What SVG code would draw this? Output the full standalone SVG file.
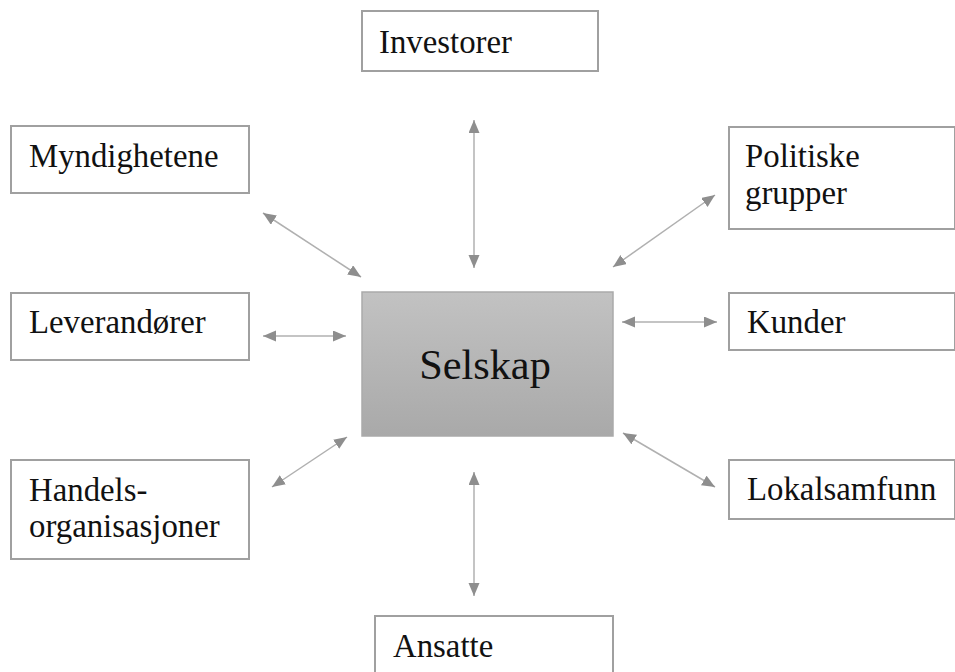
<svg xmlns="http://www.w3.org/2000/svg" width="955" height="672" viewBox="0 0 955 672">
<style>
.box{fill:#fff;stroke:#a0a0a0;stroke-width:2}
.t{font-family:"Liberation Serif","Times New Roman",serif;font-size:32.8px;fill:#111}
.c{stroke:#b0b0b0;stroke-width:1.5;fill:none;marker-start:url(#ah);marker-end:url(#ah)}
</style>
<defs>
<marker id="ah" markerUnits="userSpaceOnUse" markerWidth="14" markerHeight="12" refX="13" refY="5.5" orient="auto-start-reverse" viewBox="0 0 14 12">
<path d="M0,0 L13,5.5 L0,11 z" fill="#8e8e8e"/>
</marker>
<linearGradient id="g" x1="0" y1="0" x2="0" y2="1">
<stop offset="0" stop-color="#c2c2c2"/>
<stop offset="1" stop-color="#a9a9a9"/>
</linearGradient>
</defs>
<g id="connectors">
<line class="c" x1="474" y1="120" x2="474" y2="268"/>
<line class="c" x1="474" y1="472" x2="474" y2="596"/>
<line class="c" x1="263" y1="213" x2="361" y2="277"/>
<line class="c" x1="715" y1="195" x2="613" y2="267"/>
<line class="c" x1="263" y1="336" x2="346" y2="336"/>
<line class="c" x1="622" y1="322" x2="717" y2="322"/>
<line class="c" x1="347" y1="437" x2="272" y2="487"/>
<line class="c" x1="623" y1="433" x2="715" y2="487"/>
</g>
<g id="selskap">
<rect x="362" y="292" width="251" height="144" fill="url(#g)" stroke="#aaa" stroke-width="1.5"/>
<text x="485" y="379" text-anchor="middle" font-family="Liberation Serif, Times New Roman, serif" font-size="42.3" fill="#111">Selskap</text>
</g>
<g id="investorer">
<rect class="box" x="362" y="11" width="236" height="60"/>
<text class="t" x="379" y="53">Investorer</text>
</g>
<g id="myndighetene">
<rect class="box" x="11" y="126" width="238" height="67"/>
<text class="t" x="29" y="167">Myndighetene</text>
</g>
<g id="politiske">
<rect class="box" x="729" y="127" width="226" height="102"/>
<text class="t" x="745" y="167">Politiske</text>
<text class="t" x="745" y="204">grupper</text>
</g>
<g id="leverandorer">
<rect class="box" x="11" y="293" width="238" height="67"/>
<text class="t" x="29" y="333">Leverandører</text>
</g>
<g id="kunder">
<rect class="box" x="729" y="293" width="226" height="57"/>
<text class="t" x="747" y="333">Kunder</text>
</g>
<g id="handels">
<rect class="box" x="11" y="460" width="238" height="99"/>
<text class="t" x="29" y="501">Handels-</text>
<text class="t" x="29" y="537">organisasjoner</text>
</g>
<g id="lokalsamfunn">
<rect class="box" x="729" y="460" width="226" height="59"/>
<text class="t" x="747" y="500">Lokalsamfunn</text>
</g>
<g id="ansatte">
<rect class="box" x="375" y="616" width="238" height="70"/>
<text class="t" x="393" y="657">Ansatte</text>
</g>
</svg>
